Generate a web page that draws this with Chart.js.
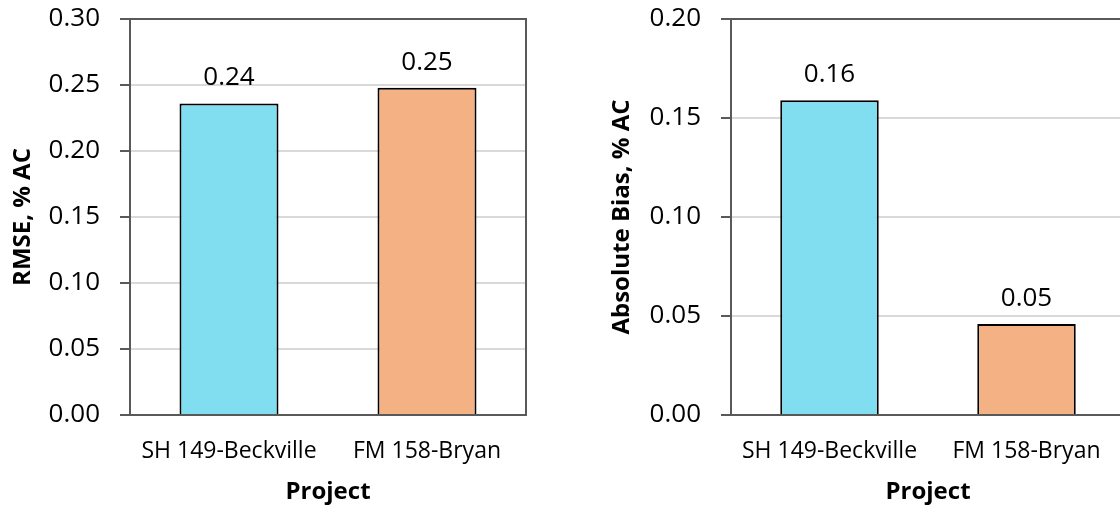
<!DOCTYPE html>
<html>
<head>
<meta charset="utf-8">
<script src="https://cdn.jsdelivr.net/npm/chart.js@4.4.0/dist/chart.umd.min.js"></script>
<style>
  html, body { margin: 0; padding: 0; background: #fff; overflow: hidden; width: 1120px; height: 512px; }
  canvas { position: absolute; top: 0; }
  #rmse { left: 0; }
  #bias { left: 560px; }
</style>
</head>
<body>
<canvas id="rmse" width="560" height="512"></canvas>
<canvas id="bias" width="600" height="512"></canvas>
<script>
// Categories and values
const projects = ['SH 149-Beckville', 'FM 158-Bryan'];
const rmseValues = [0.236, 0.248];
const biasValues = [0.159, 0.046];
const barColors = ['#80DEF0', '#F4B183'];

// Y-axis tick values
const rmseTicks = [0.00, 0.05, 0.10, 0.15, 0.20, 0.25, 0.30];
const biasTicks = [0.00, 0.05, 0.10, 0.15, 0.20];

const FONT = "'Open Sans', 'DejaVu Sans', sans-serif";
const AXIS_DARK = '#595959';
const GRID_LIGHT = '#D9D9D9';

// Box around the plot area
const framePlugin = {
  id: 'plotFrame',
  beforeDatasetsDraw(chart) {
    const { ctx, chartArea: a } = chart;
    ctx.save();
    ctx.strokeStyle = AXIS_DARK;
    ctx.lineWidth = 2;
    ctx.strokeRect(a.left, a.top, a.right - a.left, a.bottom - a.top);
    ctx.restore();
  }
};

// Value printed above each bar
const valueLabelPlugin = {
  id: 'valueLabels',
  afterDatasetsDraw(chart) {
    const { ctx } = chart;
    const meta = chart.getDatasetMeta(0);
    const data = chart.data.datasets[0].data;
    ctx.save();
    ctx.font = `26px ${FONT}`;
    ctx.fillStyle = '#000';
    ctx.textAlign = 'center';
    ctx.textBaseline = 'alphabetic';
    meta.data.forEach((bar, i) => {
      ctx.fillText(data[i].toFixed(2), bar.x, bar.y - 18);
    });
    ctx.restore();
  }
};

function makeChart(id, values, ticks, yTitle, geom) {
  return new Chart(document.getElementById(id), {
    type: 'bar',
    data: {
      labels: projects,
      datasets: [{
        data: values,
        backgroundColor: barColors,
        borderColor: '#000',
        borderWidth: 2,
        categoryPercentage: 1.0,
        barPercentage: 0.5
      }]
    },
    options: {
      responsive: false,
      animation: false,
      devicePixelRatio: 1,
      layout: { padding: geom.padding },
      plugins: {
        legend: { display: false },
        tooltip: { enabled: false }
      },
      scales: {
        x: {
          grid: { display: false, drawTicks: false },
          border: { display: false },
          ticks: {
            color: '#000',
            padding: 23,
            font: { family: FONT, size: 23 }
          },
          title: {
            display: true,
            text: 'Project',
            color: '#000',
            padding: { top: 0, bottom: 5 },
            font: { family: FONT, size: 24, weight: 'bold' }
          },
          afterFit(scale) {
            scale.height = geom.xHeight;
            scale.paddingLeft = 0;
            scale.paddingRight = 0;
          }
        },
        y: {
          min: ticks[0],
          max: ticks[ticks.length - 1],
          afterBuildTicks(scale) {
            scale.ticks = ticks.map(v => ({ value: v }));
          },
          grid: {
            color: GRID_LIGHT,
            lineWidth: 2,
            drawTicks: true,
            tickLength: 10,
            tickColor: AXIS_DARK,
            tickWidth: 2
          },
          border: { display: false },
          ticks: {
            color: '#000',
            padding: 20,
            font: { family: FONT, size: 26 },
            callback: v => Number(v).toFixed(2)
          },
          title: {
            display: true,
            text: yTitle,
            color: '#000',
            padding: { top: 9, bottom: 0 },
            font: { family: FONT, size: 24, weight: 'bold' }
          },
          afterFit(scale) {
            scale.width = geom.yWidth;
            scale.paddingTop = 0;
            scale.paddingBottom = 0;
          }
        }
      }
    },
    plugins: [framePlugin, valueLabelPlugin]
  });
}

makeChart('rmse', rmseValues, rmseTicks, 'RMSE, % AC', {
  padding: { left: 0, top: 19, right: 34, bottom: 0 },
  yWidth: 130,
  xHeight: 97
});

makeChart('bias', biasValues, biasTicks, 'Absolute Bias, % AC', {
  padding: { left: 39, top: 19, right: 35, bottom: 0 },
  yWidth: 132,
  xHeight: 97
});
</script>
</body>
</html>
